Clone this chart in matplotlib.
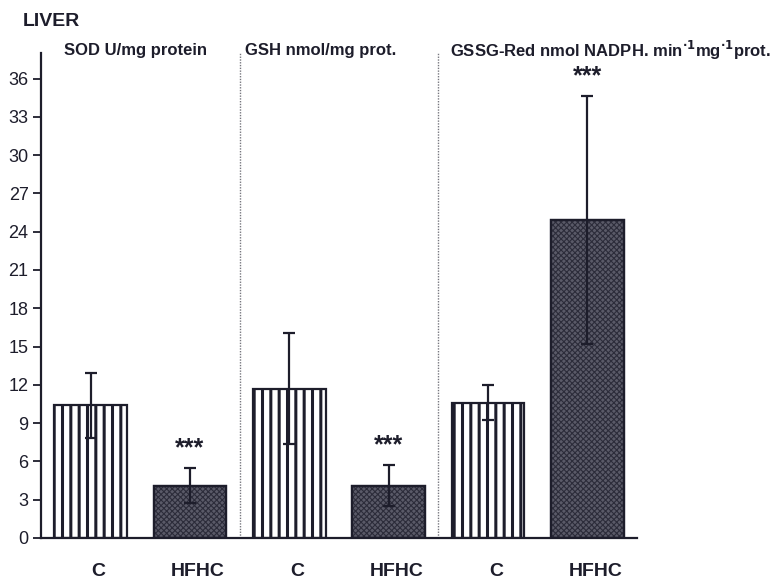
import matplotlib.pyplot as plt
import matplotlib.transforms as mtransforms
import numpy as np

plt.rcParams['font.family'] = ['Liberation Sans', 'DejaVu Sans']

groups = ['C', 'HFHC', 'C', 'HFHC', 'C', 'HFHC']
means = [10.4, 4.1, 11.7, 4.1, 10.6, 24.9]
errors = [2.55, 1.35, 4.35, 1.6, 1.35, 9.7]
signif = ['', '***', '', '***', '', '***']
panel_titles = ['SOD U/mg protein', 'GSH nmol/mg prot.',
                'GSSG-Red nmol NADPH. min$^{\\mathbf{\\cdot 1}}$mg$^{\\mathbf{\\cdot 1}}$prot.']
yticks = np.arange(0, 37, 3)

ink = '#1d1d2b'
x = np.arange(len(means))

fig = plt.figure(figsize=(7.79, 5.80), dpi=100)
ax = fig.add_axes([41 / 779, 1 - 538 / 580, (637 - 41) / 779, (538 - 53) / 580])

for i in x:
    if groups[i] == 'C':
        plt.rcParams['hatch.linewidth'] = 2.2
        ax.bar(x[i], means[i], width=0.73, color='white', edgecolor=ink,
               hatch='||', linewidth=1.6, zorder=2)
    else:
        plt.rcParams['hatch.linewidth'] = 0.8
        ax.bar(x[i], means[i], width=0.73, color='#5a5a68', edgecolor='#2c2c3a',
               hatch='xxxxxx', linewidth=1.6, zorder=2)
        ax.bar(x[i], means[i], width=0.73, fill=False, edgecolor=ink,
               linewidth=1.6, zorder=3)

ax.errorbar(x, means, yerr=errors, fmt='none', ecolor=ink, elinewidth=1.6,
            capsize=4.5, capthick=1.6, zorder=4)

for i in x:
    if signif[i]:
        ax.text(x[i], means[i] + errors[i] + 1.6, signif[i], ha='center',
                va='center', fontsize=18, fontweight='bold', color=ink)

# dotted separators between the three assays
for xs in [1.5, 3.5]:
    ax.axvline(xs, color='#77777f', linestyle=(0, (1, 1.0)), linewidth=1.0, zorder=1)

ax.set_xlim(-0.5, 5.5)
ax.set_ylim(0, 38)
ax.set_yticks(yticks)
ax.set_yticklabels([str(v) for v in yticks], fontsize=13, color=ink)
ax.set_xticks(x)
ax.set_xticklabels(groups, fontsize=14, fontweight='bold', color=ink)
ax.tick_params(axis='x', length=0, pad=18)
ax.tick_params(axis='y', length=6, width=1.3, color=ink, pad=3)

offset = mtransforms.ScaledTranslation(8 / 100, 0, fig.dpi_scale_trans)
for lab in ax.get_xticklabels():
    lab.set_transform(lab.get_transform() + offset)

for side in ['top', 'right']:
    ax.spines[side].set_visible(False)
for side in ['left', 'bottom']:
    ax.spines[side].set_color(ink)
    ax.spines[side].set_linewidth(1.6)

fig.text(23 / 779, 1 - 22 / 580, 'LIVER', fontsize=14, fontweight='bold',
         color=ink, va='center')
for tx, t in zip([64, 245, 450], panel_titles):
    fig.text(tx / 779, 1 - 50 / 580, t, fontsize=12, fontweight='bold',
             color=ink, va='center')

fig.savefig('out.png', dpi=100, facecolor='white')
